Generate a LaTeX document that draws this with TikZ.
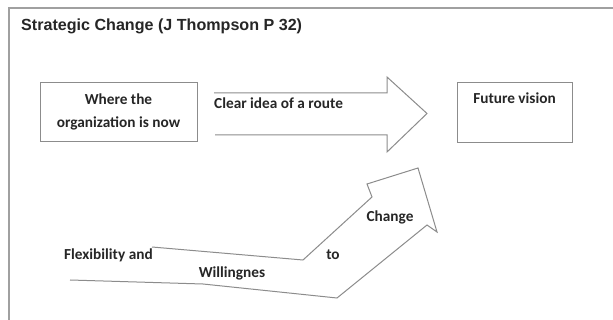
\documentclass[tikz,border=0pt]{standalone}
\usepackage{fontspec}
\setmainfont{Carlito}
\newfontfamily\titlefont{Liberation Sans}
\definecolor{edge}{HTML}{8C8C8C}
\definecolor{frameline}{HTML}{A0A0A0}
\definecolor{ink}{HTML}{262626}
\begin{document}
\begin{tikzpicture}[x=1pt,y=-1pt,
  box/.style={draw=edge, line width=1pt, fill=white, inner sep=0pt},
  lbl/.style={text=ink, inner sep=0pt, font=\bfseries\fontsize{15.3}{23}\selectfont},
  outline/.style={draw=edge, line width=1pt, line join=miter}]
\useasboundingbox (0,0) rectangle (613,320);
\fill[white] (0,0) rectangle (613,320);

% outer frame: top and left edges only
\coordinate (ftr) at (613,8);
\coordinate (ftl) at (9,8);
\coordinate (fbl) at (9,320);
\draw[frameline, line width=1.6pt] (ftr) -- (ftl) -- (fbl);

% title
\node[anchor=west, inner sep=0pt, text=ink, font=\titlefont\bfseries\fontsize{16.1}{18}\selectfont]
  (title) at (21,26) {Strategic Change (J Thompson P 32)};

% start and end boxes
\node[box, minimum width=157pt, minimum height=59pt] (now) at (118.5,112.5) {};
\node[lbl, align=center] (nowtext) at (118.5,112) {Where the\\organization is now};
\node[box, minimum width=115pt, minimum height=60pt] (vision) at (514.5,113) {};
\node[lbl, anchor=north] (visiontext) at ([yshift=-10pt]vision.north) {Future vision};

% straight block arrow (open tail)
\coordinate (a1) at (214,93);
\coordinate (a2) at (387,93);
\coordinate (a3) at (387,77);
\coordinate (a4) at (427,113.5);
\coordinate (a5) at (387,152);
\coordinate (a6) at (387,135);
\coordinate (a7) at (215,135);
\draw[outline] (a1) -- (a2) -- (a3) -- (a4) -- (a5) -- (a6) -- (a7);
\node[lbl, anchor=west] (route) at (214,103) {Clear idea of a route};

% bent block arrow (open tail)
\coordinate (b1) at (152,247);
\coordinate (b2) at (303,260);
\coordinate (b3) at (372,197);
\coordinate (b4) at (367,184);
\coordinate (b5) at (418,168);
\coordinate (b6) at (437,232);
\coordinate (b7) at (427,225);
\coordinate (b8) at (337,298);
\coordinate (b9) at (203,284);
\coordinate (b10) at (70,280);
\draw[outline] (b1) -- (b2) -- (b3) -- (b4) -- (b5) -- (b6) -- (b7) -- (b8) -- (b9) -- (b10);

\node[lbl, anchor=west] (flex) at (64,255) {Flexibility and};
\node[lbl] (will) at (232,273) {Willingnes};
\node[lbl] (to) at (333,255) {to};
\node[lbl] (change) at (390,217) {Change};
\end{tikzpicture}
\end{document}
